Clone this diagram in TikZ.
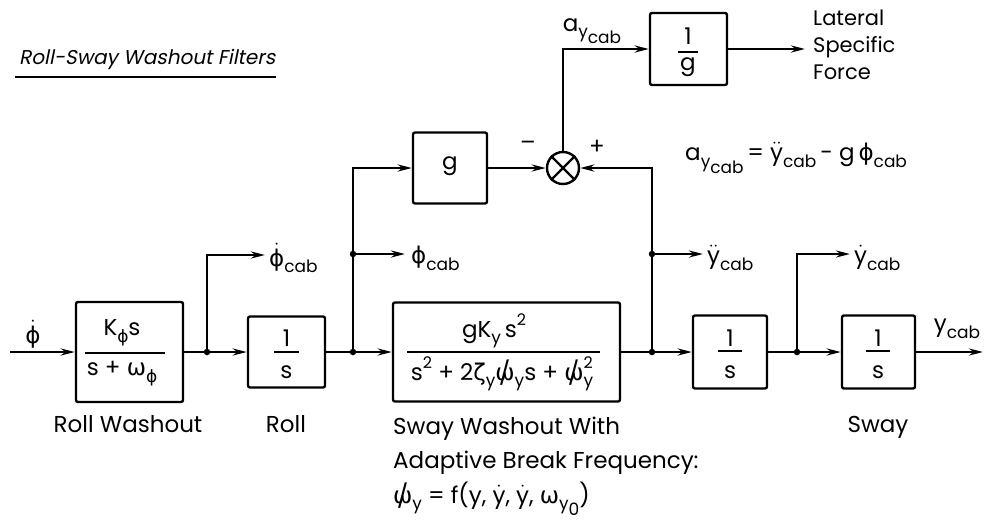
\documentclass[tikz,border=0pt]{standalone}
\usepackage{fontspec}
\usepackage{amsmath}
\setmainfont{Poppins}
\newfontfamily\gk{DejaVu Sans}
\newfontfamily\ttlfont[FakeSlant=0.2]{Poppins}
\usetikzlibrary{arrows.meta}
\newcommand{\dn}[2][0.3em]{\raisebox{-#1}{\fontsize{17}{17}\selectfont #2}}
\newcommand{\up}[1]{\raisebox{0.5em}{\fontsize{16}{16}\selectfont #1}}
\newcommand{\slw}{\ooalign{{\gk ω}\cr\hidewidth\raisebox{-0.1em}{\scalebox{1.15}[1.35]{\gk /}}\hidewidth\cr}}
\newcommand{\phd}{$\dot{\hbox{\gk ϕ}}$}
\newcommand{\yd}{$\dot{\hbox{y}}$}
\newcommand{\ydd}{$\ddot{\hbox{y}}$}
\tikzset{
  blk/.style={draw, line width=2.4pt, rounded corners=2pt, inner sep=0pt},
  lbl/.style={inner sep=0pt},
  junc/.style={circle, fill, inner sep=0pt, minimum size=6.5pt},
  fbar/.style={line width=1.8pt}
}
\begin{document}
\begin{tikzpicture}[x=1pt,y=-1pt, line width=2.4pt,
  >={Stealth[length=14pt,width=7pt]},
  font=\fontsize{23}{27}\selectfont]
\useasboundingbox (0,0) rectangle (986,520);

% title
\node[lbl, anchor=base west] (title) at (18,64) {\fontsize{20}{24}\selectfont\ttlfont Roll-Sway Washout Filters};
\coordinate (ul1) at (15,77); \coordinate (ul2) at (276,77);
\draw[line width=1.6pt] (ul1) -- (ul2);

% blocks
\node[blk, minimum width=107pt, minimum height=100pt] (rw) at (129.5,352) {};
\node[blk, minimum width=77pt, minimum height=71pt] (roll) at (286.5,352) {};
\node[blk, minimum width=227pt, minimum height=99pt] (sw) at (506.5,352) {};
\node[blk, minimum width=74pt, minimum height=73pt] (s1) at (730,352) {};
\node[blk, minimum width=73pt, minimum height=73pt] (s2) at (878.5,352) {};
\node[blk, minimum width=74pt, minimum height=71pt] (gb) at (450,168) {};
\node[blk, minimum width=77pt, minimum height=72pt] (ig) at (688.5,49) {};
\node[circle, draw, minimum size=32pt, inner sep=0pt] (sum) at (563,168) {};
\draw (sum.north west) -- (sum.south east) (sum.north east) -- (sum.south west);

% block contents
\node[lbl] (rwn) at (122,333) {K\dn{\gk ϕ}s};
\coordinate (rwl1) at (85,353); \coordinate (rwl2) at (165,353);
\draw[fbar] (rwl1) -- (rwl2);
\node[lbl] (rwd) at (122,374) {s + {\gk ω}\dn{\gk ϕ}};

\node[lbl] (rl1) at (286.5,338) {1};
\coordinate (rll1) at (274,352); \coordinate (rll2) at (299,352);
\draw[fbar] (rll1) -- (rll2);
\node[lbl] (rls) at (286.5,372) {s};

\node[lbl] (swn) at (494,331) {gK\dn{y}\,s\up{2}};
\coordinate (swl1) at (407,352); \coordinate (swl2) at (600,352);
\draw[fbar] (swl1) -- (swl2);
\node[lbl] (swd) at (502,374) {s\up{2} + 2{\gk ζ}\dn{y}\slw\dn{y}s + \slw\rlap{\up{2}}\dn{y}};

\node[lbl] (s1a) at (730,338) {1};
\coordinate (s1l1) at (718,351); \coordinate (s1l2) at (742,351);
\draw[fbar] (s1l1) -- (s1l2);
\node[lbl] (s1b) at (730,372) {s};

\node[lbl] (s2a) at (878,338) {1};
\coordinate (s2l1) at (866,351); \coordinate (s2l2) at (890,351);
\draw[fbar] (s2l1) -- (s2l2);
\node[lbl] (s2b) at (878,372) {s};

\node[lbl] (gbt) at (450,166) {g};

\node[lbl] (ig1) at (688,36) {1};
\coordinate (igl1) at (678,52); \coordinate (igl2) at (698,52);
\draw[fbar] (igl1) -- (igl2);
\node[lbl] (ig2) at (688,67) {g};

% main path
\coordinate (in) at (10,352);
\draw[->] (in) -- (rw.west);
\draw[->] (rw.east) -- (roll.west);
\draw[->] (roll.east) -- (sw.west);
\draw[->] (sw.east) -- (s1.west);
\draw[->] (s1.east) -- (s2.west);
\coordinate (out) at (983,352);
\draw[->] (s2.east) -- (out);

% branches
\coordinate (b1) at (207,352); \coordinate (b1t) at (207,255); \coordinate (o1) at (265,255);
\draw[->] (b1) -- (b1t) -- (o1);
\coordinate (b2) at (353,352);
\draw[->] (b2) |- (gb.west);
\coordinate (b2m) at (353,254); \coordinate (o2) at (405,254);
\draw[->] (b2m) -- (o2);
\coordinate (b3) at (652,352);
\draw[->] (b3) |- (sum.east);
\coordinate (b3m) at (652,254); \coordinate (o3) at (703,254);
\draw[->] (b3m) -- (o3);
\coordinate (b4) at (797,352); \coordinate (b4t) at (797,254); \coordinate (o4) at (850,254);
\draw[->] (b4) -- (b4t) -- (o4);
\draw[->] (gb.east) -- (sum.west);
\draw[->] (sum.north) |- (ig.west);
\coordinate (lo) at (805,49);
\draw[->] (ig.east) -- (lo);

\foreach \p in {b1,b2,b2m,b3,b3m,b4} \node[junc] at (\p) {};

% signal labels
\node[lbl] (phid) at (33,334) {\phd};
\node[lbl, anchor=west] (l1) at (268,258) {\phd\dn{cab}};
\node[lbl, anchor=west] (l2) at (410,258) {{\gk ϕ}\dn{cab}};
\node[lbl, anchor=west] (l3) at (706,258) {\ydd\dn{cab}};
\node[lbl, anchor=west] (l4) at (853,258) {\yd\dn{cab}};
\node[lbl] (l5) at (957,329) {y\dn{cab}};
\node[lbl] (l6) at (592,31) {a\dn{y}\dn[0.55em]{cab}};
\node[lbl] (minus) at (528,146) {–};
\node[lbl] (plus) at (597,147) {+};
\node[lbl, anchor=west, align=left, font=\fontsize{21}{27}\selectfont] (lsf) at (812,45) {Lateral\\Specific\\Force};
\node[lbl, anchor=west] (eq) at (684,158) {a\dn{y}\dn[0.55em]{cab}\,= \ydd\dn{cab}\,- g\,{\gk ϕ}\dn{cab}};

% block captions
\node[lbl, anchor=base] (crw) at (128,432) {Roll Washout};
\node[lbl, anchor=base] (croll) at (286,432) {Roll};
\node[lbl, anchor=base] (csway) at (878,432) {Sway};
\node[lbl, anchor=base west] (csw1) at (392,434) {Sway Washout With};
\node[lbl, anchor=base west] (csw2) at (392,468) {Adaptive Break Frequency:};
\node[lbl, anchor=base west] (csw3) at (392,503) {\slw\dn{y} = f(y, \yd, \yd, {\gk ω}\dn{y}\dn[0.55em]{0})};
\end{tikzpicture}
\end{document}
